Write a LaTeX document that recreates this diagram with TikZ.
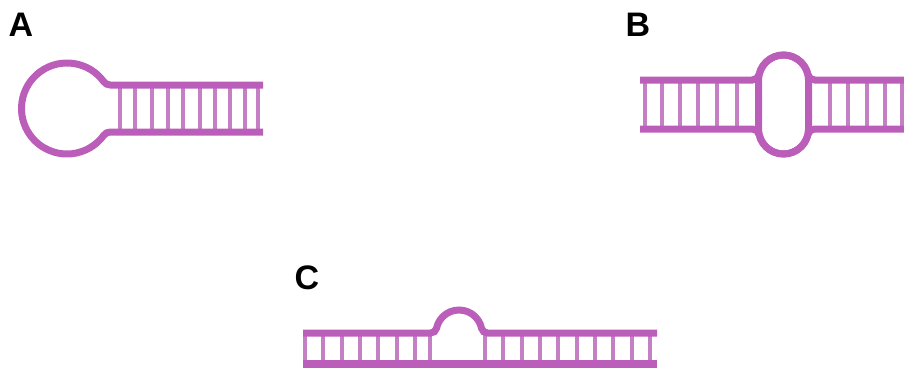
\documentclass[tikz,border=0pt]{standalone}
\usepackage{fontspec}
\setmainfont{Liberation Sans}
\definecolor{strand}{HTML}{BA5EBA}
\definecolor{rung}{HTML}{C580C5}
\begin{document}
\begin{tikzpicture}[x=1pt,y=-1pt,
  strandline/.style={draw=strand,line width=7pt},
  rungline/.style={draw=rung,line width=3.8pt},
  panellabel/.style={font=\bfseries\fontsize{34}{34}\selectfont,inner sep=0pt,text=black}]
\useasboundingbox (0,0) rectangle (904,367);
\clip (0,0) rectangle (904,367);

% panel labels
\node[panellabel] (labA) at (21,25) {A};
\node[panellabel] (labB) at (638,25) {B};
\node[panellabel] (labC) at (307,278) {C};

% A: hairpin loop with a stem
\foreach \x in {120,135,152,168,183,200,215,230,245,258}
  \draw[rungline] (\x,85) -- (\x,132);
\draw[strandline] (263,85) -- (110.24,85)
  arc[start angle=-270,end angle=-216.07,radius=8]
  arc[start angle=-36.07,end angle=-323.93,radius=45.5]
  arc[start angle=-143.93,end angle=-90,radius=8]
  -- (263,132);

% B: internal loop between two stems
\foreach \x in {645,662,680,698,717,737,830,848,867,885,902}
  \draw[rungline] (\x,80) -- (\x,129);
\draw[strandline] (758.5,80) arc[start angle=-180,end angle=0,radius=25]
  -- (808.5,129) arc[start angle=0,end angle=180,radius=25] -- cycle;
\draw[strandline] (640,80) -- (752.28,80)
  arc[start angle=90,end angle=12.64,radius=7]
  arc[start angle=-167.36,end angle=-12.64,radius=25]
  arc[start angle=-192.64,end angle=-270,radius=7]
  -- (904,80);
\draw[strandline] (640,129) -- (752.28,129)
  arc[start angle=-90,end angle=-12.64,radius=7]
  arc[start angle=-192.64,end angle=-347.36,radius=25]
  arc[start angle=-167.36,end angle=-90,radius=7]
  -- (904,129);

% C: bulge on one strand
\foreach \x in {305,323,342,360,378,397,415,430,485,503,522,540,558,577,595,613,632,650}
  \draw[rungline] (\x,333) -- (\x,363);
\draw[strandline] (303,333) -- (430.63,333)
  arc[start angle=90,end angle=11.94,radius=6]
  arc[start angle=-168.06,end angle=-11.94,radius=23]
  arc[start angle=-191.94,end angle=-270,radius=6]
  -- (657,333);
\draw[strandline,line width=8pt] (303,364) -- (657,364);
\end{tikzpicture}
\end{document}
